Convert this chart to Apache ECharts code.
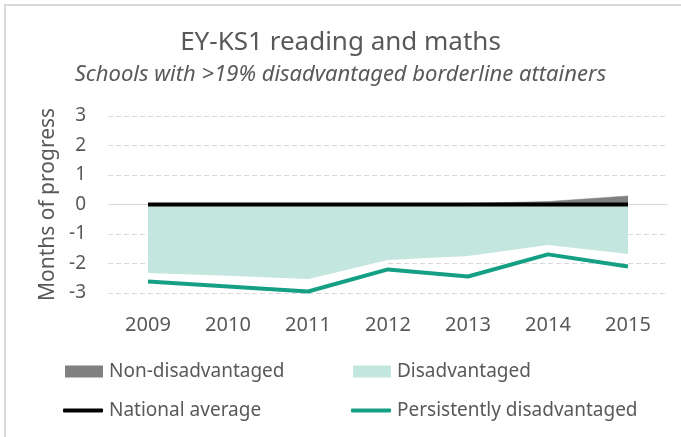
<!DOCTYPE html>
<html>
<head>
<meta charset="utf-8">
<script src="https://cdn.jsdelivr.net/npm/echarts@6/dist/echarts.min.js"></script>
<style>
  html, body { margin: 0; padding: 0; background: #fff; }
  #frame {
    position: absolute; left: 4px; top: 4px; width: 677px; height: 433px;
    border-left: 2px solid #d9d9d9; border-top: 2px solid #d9d9d9; box-sizing: border-box;
  }
  #chart { position: absolute; left: 0; top: 0; width: 681px; height: 437px; }
</style>
</head>
<body>
<div id="frame"></div>
<div id="chart"></div>
<script>
const years = ['2009', '2010', '2011', '2012', '2013', '2014', '2015']
const nonDisadvantaged = [0, 0, 0, 0.01, 0.04, 0.1, 0.29]
const disadvantaged = [-2.37, -2.47, -2.58, -1.93, -1.8, -1.42, -1.73]
const nationalAverage = [0, 0, 0, 0, 0, 0, 0]
const persistentlyDisadvantaged = [-2.61, -2.78, -2.95, -2.2, -2.44, -1.69, -2.1]

const textColor = '#595959'
const font = 'Noto Sans'

const chart = echarts.init(document.getElementById('chart'))

const legendBase = {
  orient: 'horizontal',
  itemGap: 4,
  textStyle: { color: textColor, fontSize: 19, fontFamily: font, padding: [0, 0, 0, 1] }
}

chart.setOption({
  animation: false,
  title: [
    {
      text: 'EY-KS1 reading and maths',
      left: 'center',
      top: 25,
      textStyle: { color: textColor, fontSize: 26, fontWeight: 'normal', fontFamily: font }
    },
    {
      text: 'Schools with >19% disadvantaged borderline attainers',
      left: 'center',
      top: 59,
      textStyle: { color: textColor, fontSize: 22, fontWeight: 'normal', fontStyle: 'italic', fontFamily: font }
    }
  ],
  legend: [
    Object.assign({}, legendBase, {
      left: 60, top: 357, itemWidth: 38, itemHeight: 12,
      data: [{ name: 'Non-disadvantaged', icon: 'rect', itemStyle: { color: '#808080', borderWidth: 0 } }]
    }),
    Object.assign({}, legendBase, {
      left: 348, top: 357, itemWidth: 38, itemHeight: 12,
      data: [{ name: 'Disadvantaged', icon: 'rect', itemStyle: { color: '#c3e6df', borderWidth: 0 } }]
    }),
    Object.assign({}, legendBase, {
      left: 58, top: 396, itemWidth: 40, itemHeight: 4,
      data: [{ name: 'National average', icon: 'roundRect' }]
    }),
    Object.assign({}, legendBase, {
      left: 346, top: 396, itemWidth: 40, itemHeight: 4,
      data: [{ name: 'Persistently disadvantaged', icon: 'roundRect' }]
    })
  ],
  grid: { left: 108, right: 13, top: 116, bottom: 144 },
  xAxis: {
    type: 'category',
    data: years,
    boundaryGap: true,
    axisLine: { show: false },
    axisTick: { show: false },
    axisLabel: { color: textColor, fontSize: 20, fontFamily: font, margin: 22 }
  },
  yAxis: {
    type: 'value',
    min: -3,
    max: 3,
    interval: 1,
    name: 'Months of progress',
    nameLocation: 'middle',
    nameGap: 44,
    nameTextStyle: { color: textColor, fontSize: 21, fontFamily: font },
    axisLine: { show: false },
    axisTick: { show: false },
    axisLabel: { color: textColor, fontSize: 19, fontFamily: font, margin: 22 },
    splitLine: { lineStyle: { color: '#d9d9d9', type: [5, 3], width: 1 } }
  },
  series: [
    {
      name: 'Non-disadvantaged',
      type: 'line',
      data: nonDisadvantaged,
      symbol: 'none',
      itemStyle: { color: '#808080' },
      lineStyle: { color: '#808080', width: 0.5 },
      areaStyle: { color: '#808080', opacity: 1 },
      z: 2
    },
    {
      name: 'Disadvantaged',
      type: 'line',
      data: disadvantaged,
      symbol: 'none',
      itemStyle: { color: '#c3e6df' },
      lineStyle: { color: '#ffffff', width: 3 },
      areaStyle: { color: '#c3e6df', opacity: 1 },
      markLine: {
        silent: true,
        z: 1,
        symbol: 'none',
        label: { show: false },
        lineStyle: { color: '#d9d9d9', type: 'solid', width: 1 },
        data: [{ yAxis: 0 }]
      },
      z: 2
    },
    {
      name: 'National average',
      type: 'line',
      data: nationalAverage,
      symbol: 'none',
      itemStyle: { color: '#000000' },
      lineStyle: { color: '#000000', width: 4 },
      z: 4
    },
    {
      name: 'Persistently disadvantaged',
      type: 'line',
      data: persistentlyDisadvantaged,
      symbol: 'none',
      itemStyle: { color: '#15a085' },
      lineStyle: { color: '#15a085', width: 4 },
      z: 4
    }
  ]
})
</script>
</body>
</html>
